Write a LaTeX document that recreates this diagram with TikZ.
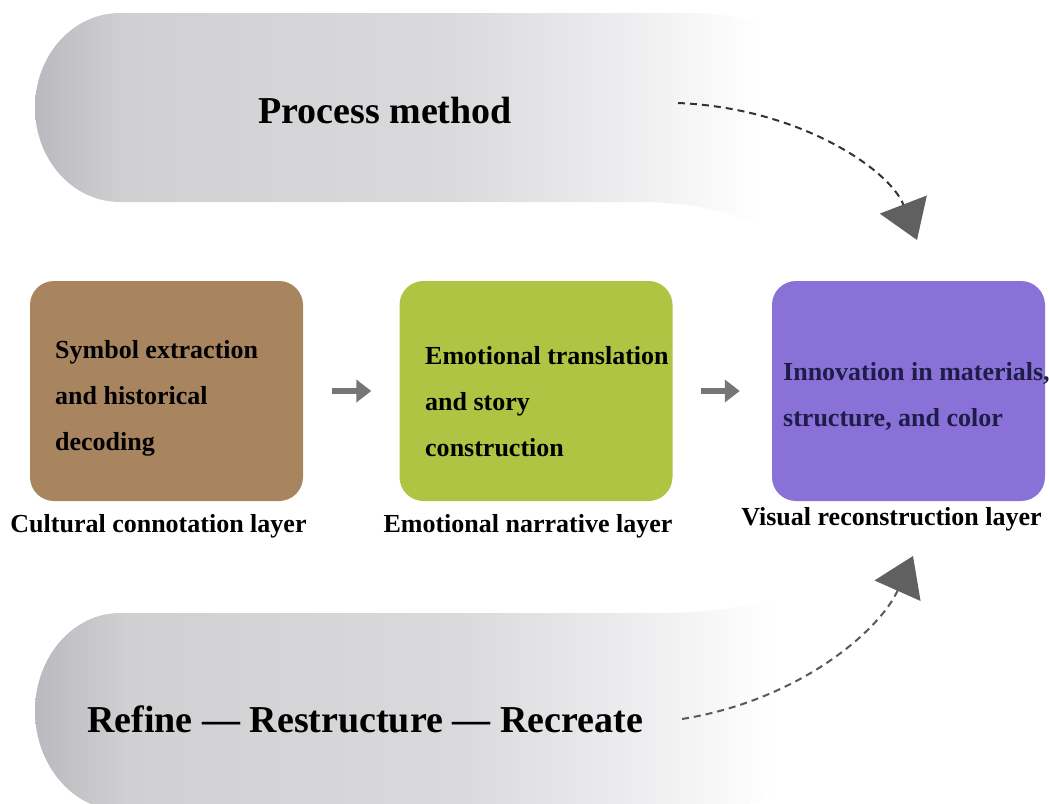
\documentclass[tikz,border=0pt]{standalone}
\usepackage{fontspec}
\setmainfont{Liberation Serif}
\usetikzlibrary{positioning,arrows.meta}

\definecolor{culture}{RGB}{168,132,95}
\definecolor{emotion}{RGB}{174,196,66}
\definecolor{visual}{RGB}{138,113,216}
\definecolor{navytext}{RGB}{30,28,72}
\definecolor{bandgray}{RGB}{186,186,190}
\definecolor{bandmid}{RGB}{208,208,211}
\definecolor{bandpale}{RGB}{218,218,221}
\definecolor{bandlight}{RGB}{238,238,240}
\definecolor{tipgray}{RGB}{96,96,96}
\definecolor{flowgray}{RGB}{118,118,118}

% grey band fading out towards the right
\pgfdeclarehorizontalshading{bandfade}{100bp}{color(0bp)=(bandgray); color(25bp)=(bandgray);
  color(30bp)=(bandmid); color(48bp)=(bandpale); color(58bp)=(bandlight); color(65bp)=(white); color(100bp)=(white)}

\begin{document}
\begin{tikzpicture}[x=1pt, y=-1pt,
    layerbox/.style={rounded corners=24pt, minimum width=273pt, minimum height=220pt, inner sep=0pt},
    boxtext/.style={anchor=west, align=left, inner sep=0pt, font=\fontsize{26}{46}\selectfont\bfseries},
    caption/.style={inner sep=0pt, font=\fontsize{26}{30}\selectfont\bfseries},
    title/.style={anchor=base west, inner sep=0pt, font=\fontsize{38}{44}\selectfont\bfseries},
    flowarrow/.style={-{Triangle[width=22pt,length=15pt]}, line width=6pt, flowgray},
    feedback/.style={dash pattern=on 7pt off 5pt, line width=2pt,
                     -{Triangle[width=50pt,length=38pt,color=tipgray]}}]

  \useasboundingbox (0,0) rectangle (1049,803);

  % bands
  \shade[shading=bandfade] (120,13) -- (690,13) .. controls (790,13) and (880,70) .. (940,175)
     -- (820,275) .. controls (780,225) and (720,202) .. (640,202) -- (120,202)
     .. controls (73,202) and (35,160) .. (35,107.5) .. controls (35,55) and (73,13) .. (120,13) -- cycle;
  \shade[shading=bandfade] (120,613) -- (660,613) .. controls (750,613) and (830,590) .. (880,545)
     -- (960,610) .. controls (900,700) and (820,810) .. (700,810) -- (120,810)
     .. controls (73,810) and (35,765) .. (35,711) .. controls (35,657) and (73,613) .. (120,613) -- cycle;

  \node[title] (pm) at (258,123) {Process method};
  \node[title] (rrr) at (87,732) {Refine — Restructure — Recreate};

  % three layers
  \node[layerbox, fill=culture] (cul) at (166.5,391) {};
  \node[layerbox, fill=emotion] (emo) at (536,391) {};
  \node[layerbox, fill=visual]  (vis) at (908.5,391) {};

  \node[boxtext] (culT) at (55,398) {Symbol extraction\\and historical\\decoding};
  \node[boxtext] (emoT) at (425,402) {Emotional translation\\and story\\construction};
  \node[boxtext, text=navytext] (visT) at (783,396) {Innovation in materials,\\structure, and color};

  \node[caption, below=13pt of cul, xshift=-8pt]  (culL) {Cultural connotation layer};
  \node[caption, below=13pt of emo, xshift=-8pt]  (emoL) {Emotional narrative layer};
  \node[caption, below=6pt of vis, xshift=-17pt]  (visL) {Visual reconstruction layer};

  \draw[flowarrow, shorten <=29pt, shorten >=28pt] (cul) -- (emo);
  \draw[flowarrow, shorten <=28pt, shorten >=32pt] (emo) -- (vis);

  % dashed loops
  \coordinate (pmTail)  at (678,103);
  \coordinate (pmTip)   at (917,240);
  \coordinate (rrrTail) at (682,719);
  \coordinate (rrrTip)  at (913,556);
  \draw[feedback, black!80] (pmTail) .. controls (800,108) and (890,170) .. (pmTip);
  \draw[feedback, black!65] (rrrTail) .. controls (800,700) and (880,630) .. (rrrTip);
\end{tikzpicture}
\end{document}
